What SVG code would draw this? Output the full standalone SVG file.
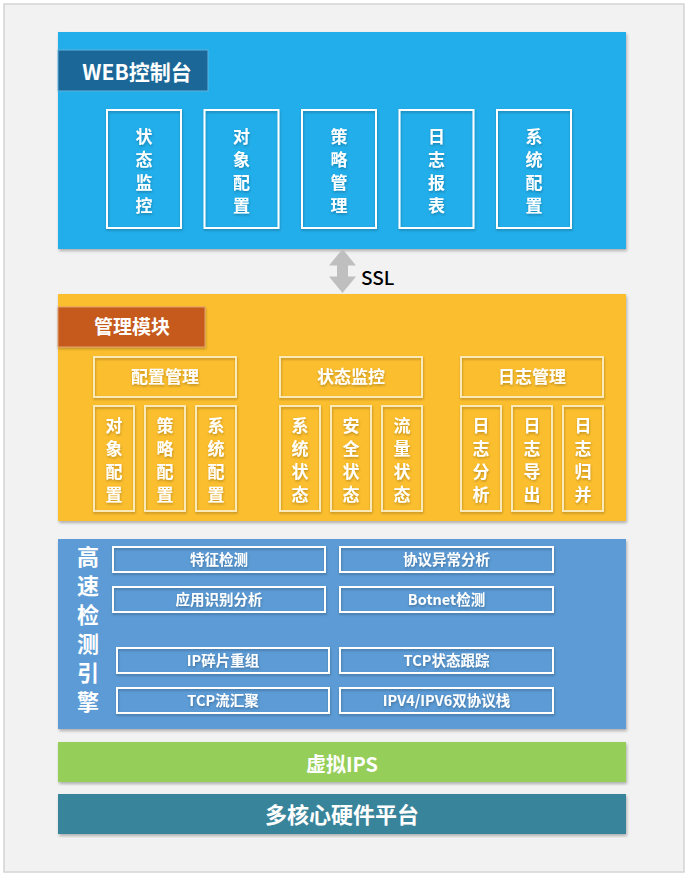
<svg xmlns="http://www.w3.org/2000/svg" width="688" height="878" viewBox="0 0 688 878">
<defs>
<filter id="sh" x="-5%" y="-5%" width="110%" height="115%">
<feDropShadow dx="1" dy="2" stdDeviation="1.5" flood-color="#000" flood-opacity="0.28"/>
</filter>
<filter id="shs" x="-10%" y="-10%" width="120%" height="130%">
<feDropShadow dx="0.5" dy="1.5" stdDeviation="1" flood-color="#000" flood-opacity="0.25"/>
</filter>
<style>
text{font-family:"Noto Sans CJK SC","Noto Sans",sans-serif;font-weight:700;fill:#fff}
.box{fill:none;stroke:#fff;stroke-width:2}
.boxl{fill:none;stroke:#fbe9b8;stroke-width:2}
.v17{font-size:17px;text-anchor:middle}
.h17{font-size:17px;text-anchor:middle}
.h14{font-size:14.5px;text-anchor:middle}
</style>
</defs>
<rect x="0" y="0" width="688" height="878" fill="#ffffff"/>
<rect x="4" y="4" width="680" height="868" fill="#f2f2f2" stroke="#d4d4d4" stroke-width="1.5"/>

<g id="web">
<rect x="58" y="32" width="568" height="217" fill="#20aeea" filter="url(#sh)"/>
<rect x="58" y="50" width="150" height="41" fill="#1b6898" stroke="#5fb2dc" stroke-width="1"/>
<text x="137" y="80" font-size="21" text-anchor="middle">WEB控制台</text>
<g id="web-1" filter="url(#shs)"><rect class="box" x="107" y="110" width="74" height="118"/>
<text class="v17"><tspan x="144" y="142.5">状</tspan><tspan x="144" y="165.5">态</tspan><tspan x="144" y="188.5">监</tspan><tspan x="144" y="211.5">控</tspan></text></g>
<g id="web-2" filter="url(#shs)"><rect class="box" x="204.5" y="110" width="74" height="118"/>
<text class="v17"><tspan x="241.5" y="142.5">对</tspan><tspan x="241.5" y="165.5">象</tspan><tspan x="241.5" y="188.5">配</tspan><tspan x="241.5" y="211.5">置</tspan></text></g>
<g id="web-3" filter="url(#shs)"><rect class="box" x="302" y="110" width="74" height="118"/>
<text class="v17"><tspan x="339" y="142.5">策</tspan><tspan x="339" y="165.5">略</tspan><tspan x="339" y="188.5">管</tspan><tspan x="339" y="211.5">理</tspan></text></g>
<g id="web-4" filter="url(#shs)"><rect class="box" x="399.5" y="110" width="74" height="118"/>
<text class="v17"><tspan x="436.5" y="142.5">日</tspan><tspan x="436.5" y="165.5">志</tspan><tspan x="436.5" y="188.5">报</tspan><tspan x="436.5" y="211.5">表</tspan></text></g>
<g id="web-5" filter="url(#shs)"><rect class="box" x="497" y="110" width="74" height="118"/>
<text class="v17"><tspan x="534" y="142.5">系</tspan><tspan x="534" y="165.5">统</tspan><tspan x="534" y="188.5">配</tspan><tspan x="534" y="211.5">置</tspan></text></g>
</g>

<g id="connectors">
<polygon points="342.5,249 356,265.5 348,265.5 348,276.5 356,276.5 342.5,293 329,276.5 337,276.5 337,265.5 329,265.5" fill="#bfbfbf"/>
<text x="361" y="285" font-size="19" font-weight="500" style="fill:#000;font-weight:500">SSL</text>
</g>

<g id="mgmt">
<rect x="58" y="294" width="568" height="227" fill="#fbbe2e" filter="url(#sh)"/>
<rect x="58" y="307" width="147" height="40" fill="#c55a1f" stroke="#e2a070" stroke-width="1" filter="url(#shs)"/>
<text x="132" y="334" font-size="19" text-anchor="middle">管理模块</text>

<g id="cfg" filter="url(#shs)">
<rect class="boxl" x="94" y="357" width="142" height="40"/>
<text class="h17" x="165" y="383">配置管理</text>
<rect class="boxl" x="94" y="406" width="40" height="105"/>
<text class="v17"><tspan x="114" y="431.5">对</tspan><tspan x="114" y="454.5">象</tspan><tspan x="114" y="477.5">配</tspan><tspan x="114" y="500.5">置</tspan></text>
<rect class="boxl" x="145" y="406" width="40" height="105"/>
<text class="v17"><tspan x="165" y="431.5">策</tspan><tspan x="165" y="454.5">略</tspan><tspan x="165" y="477.5">配</tspan><tspan x="165" y="500.5">置</tspan></text>
<rect class="boxl" x="196" y="406" width="40" height="105"/>
<text class="v17"><tspan x="216" y="431.5">系</tspan><tspan x="216" y="454.5">统</tspan><tspan x="216" y="477.5">配</tspan><tspan x="216" y="500.5">置</tspan></text>
</g>

<g id="mon" filter="url(#shs)">
<rect class="boxl" x="280" y="357" width="142" height="40"/>
<text class="h17" x="351" y="383">状态监控</text>
<rect class="boxl" x="280" y="406" width="40" height="105"/>
<text class="v17"><tspan x="300" y="431.5">系</tspan><tspan x="300" y="454.5">统</tspan><tspan x="300" y="477.5">状</tspan><tspan x="300" y="500.5">态</tspan></text>
<rect class="boxl" x="331" y="406" width="40" height="105"/>
<text class="v17"><tspan x="351" y="431.5">安</tspan><tspan x="351" y="454.5">全</tspan><tspan x="351" y="477.5">状</tspan><tspan x="351" y="500.5">态</tspan></text>
<rect class="boxl" x="382" y="406" width="40" height="105"/>
<text class="v17"><tspan x="402" y="431.5">流</tspan><tspan x="402" y="454.5">量</tspan><tspan x="402" y="477.5">状</tspan><tspan x="402" y="500.5">态</tspan></text>
</g>

<g id="log" filter="url(#shs)">
<rect class="boxl" x="461" y="357" width="142" height="40"/>
<text class="h17" x="532" y="383">日志管理</text>
<rect class="boxl" x="461" y="406" width="40" height="105"/>
<text class="v17"><tspan x="481" y="431.5">日</tspan><tspan x="481" y="454.5">志</tspan><tspan x="481" y="477.5">分</tspan><tspan x="481" y="500.5">析</tspan></text>
<rect class="boxl" x="512" y="406" width="40" height="105"/>
<text class="v17"><tspan x="532" y="431.5">日</tspan><tspan x="532" y="454.5">志</tspan><tspan x="532" y="477.5">导</tspan><tspan x="532" y="500.5">出</tspan></text>
<rect class="boxl" x="563" y="406" width="40" height="105"/>
<text class="v17"><tspan x="583" y="431.5">日</tspan><tspan x="583" y="454.5">志</tspan><tspan x="583" y="477.5">归</tspan><tspan x="583" y="500.5">并</tspan></text>
</g>
</g>

<g id="engine">
<rect x="58" y="539" width="568" height="190" fill="#5b9bd5" filter="url(#sh)"/>
<text font-size="22" text-anchor="middle"><tspan x="88" y="565.4">高</tspan><tspan x="88" y="594.4">速</tspan><tspan x="88" y="623.4">检</tspan><tspan x="88" y="652.4">测</tspan><tspan x="88" y="681.4">引</tspan><tspan x="88" y="710.4">擎</tspan></text>
<g id="e1" filter="url(#shs)"><rect class="box" x="113" y="547" width="212" height="25"/><text class="h14" x="219" y="564.5">特征检测</text></g>
<g id="e2" filter="url(#shs)"><rect class="box" x="340" y="547" width="213" height="25"/><text class="h14" x="446.5" y="564.5">协议异常分析</text></g>
<g id="e3" filter="url(#shs)"><rect class="box" x="113" y="587" width="212" height="25"/><text class="h14" x="219" y="604.5">应用识别分析</text></g>
<g id="e4" filter="url(#shs)"><rect class="box" x="340" y="587" width="213" height="25"/><text class="h14" x="446.5" y="604.5">Botnet检测</text></g>
<g id="e5" filter="url(#shs)"><rect class="box" x="117" y="648" width="212" height="25"/><text class="h14" x="223" y="665.5">IP碎片重组</text></g>
<g id="e6" filter="url(#shs)"><rect class="box" x="340" y="648" width="213" height="25"/><text class="h14" x="446.5" y="665.5">TCP状态跟踪</text></g>
<g id="e7" filter="url(#shs)"><rect class="box" x="117" y="688" width="212" height="25"/><text class="h14" x="223" y="705.5">TCP流汇聚</text></g>
<g id="e8" filter="url(#shs)"><rect class="box" x="340" y="688" width="213" height="25"/><text class="h14" x="446.5" y="705.5">IPV4/IPV6双协议栈</text></g>
</g>

<g id="vips">
<rect x="58" y="742" width="568" height="40" fill="#95ce59" filter="url(#sh)"/>
<text x="342" y="772" font-size="20" text-anchor="middle">虚拟IPS</text>
</g>

<g id="hw">
<rect x="58" y="794" width="568" height="40" fill="#37849a" filter="url(#sh)"/>
<text x="342" y="823" font-size="22" text-anchor="middle">多核心硬件平台</text>
</g>
</svg>
